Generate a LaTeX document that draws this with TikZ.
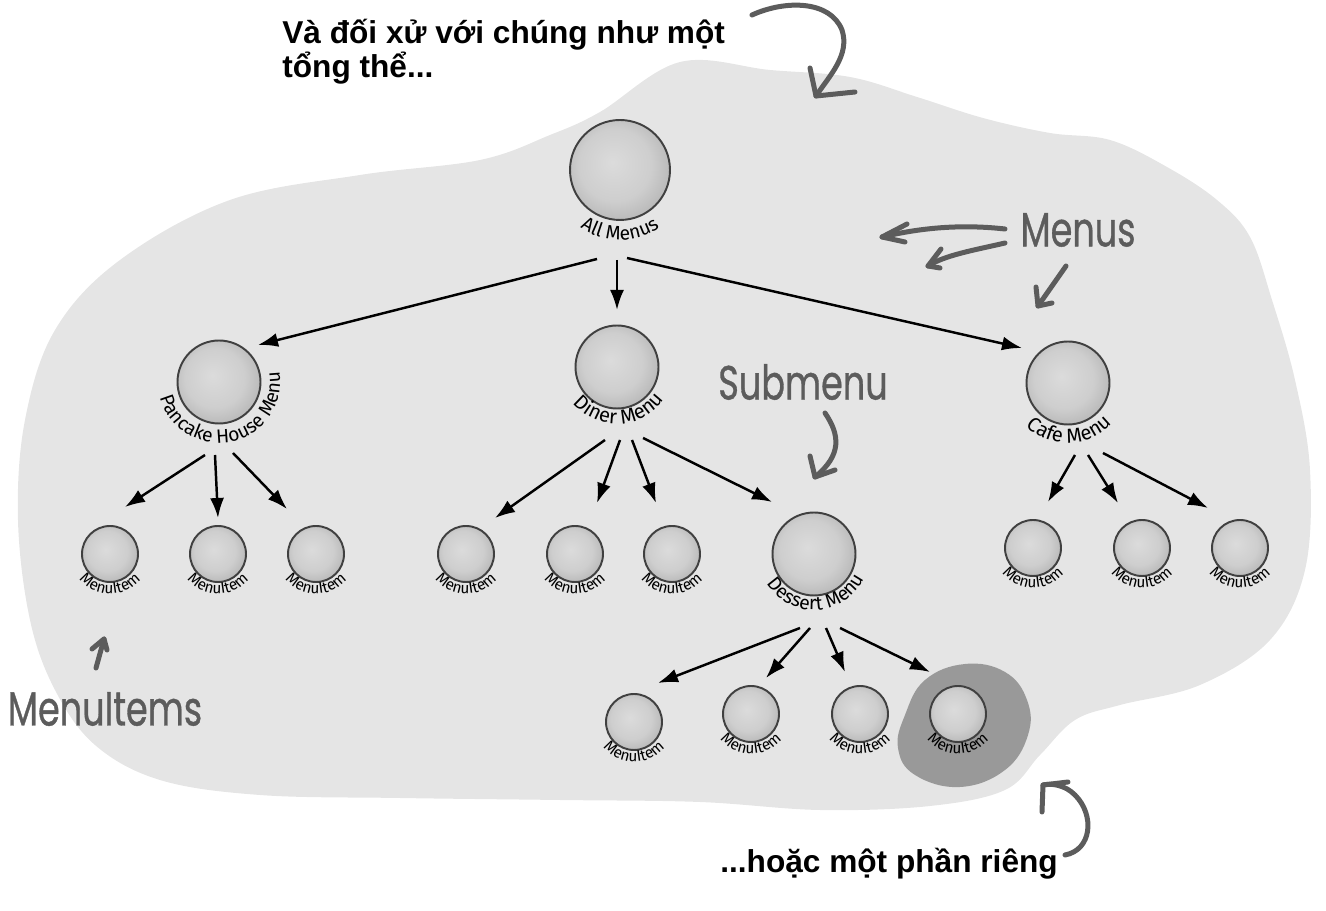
\documentclass[tikz,border=0pt]{standalone}
\usepackage{fontspec}
\setmainfont{Liberation Sans}
\newfontfamily\lblfont{Fira Sans}
\newfontfamily\handfont[FakeBold=0.9]{Poppins}
\usetikzlibrary{arrows.meta,calc,decorations.text}
\definecolor{blobgray}{gray}{0.9}
\definecolor{darkblob}{gray}{0.6}
\definecolor{handgray}{gray}{0.36}
\definecolor{ballin}{gray}{0.86}
\definecolor{ballout}{gray}{0.6}
\pgfdeclareradialshading{ballshade}{\pgfpoint{-4bp}{4bp}}{color(0bp)=(ballin); color(18bp)=(ballin!80!ballout); color(42bp)=(ballout); color(50bp)=(ballout)}
\newcommand\arclbl[5]{%
  \path[decorate, decoration={text along path, text align=center, text={#5}}]
    ($(#1)+(#3:#2)$) arc[start angle=#3, end angle=#4, radius=#2];}
\newcommand\hw[1]{\scalebox{0.95}[1.3]{#1}}
\begin{document}
\begin{tikzpicture}[x=0.02cm, y=-0.02cm,
  ball/.style={circle, draw=black!75, line width=1.1pt, shading=ballshade, inner sep=0pt},
  bigball/.style={ball, minimum size=1.66cm},
  topball/.style={ball, minimum size=2cm},
  itemball/.style={ball, minimum size=1.12cm},
  conn/.style={line width=1.4pt, -{Latex[length=0.4cm,width=0.28cm]}},
  hand/.style={handgray, line width=0.1cm, line cap=round, line join=round},
  handtext/.style={handgray, font=\handfont\fontsize{21}{24}\selectfont, inner sep=0pt},
  bigtext/.style={anchor=base west, inner sep=0pt, font=\bfseries\fontsize{18}{21}\selectfont}
]
\useasboundingbox (0,0) rectangle (1326,911);
% background blob
\fill[blobgray] plot[smooth cycle, tension=0.6] coordinates {
 (600,112) (680,62) (770,70) (850,77) (917,97) (983,118) (1050,133) (1110,140)
 (1167,167) (1217,200) (1250,237) (1272,300) (1295,380) (1310,470) (1305,570)
 (1270,640) (1200,685) (1120,705) (1075,720) (1040,755)
 (1005,790) (930,806) (820,810) (700,802) (560,800) (400,798) (260,795) (160,780)
 (95,745) (55,690) (30,620) (18,520) (25,420) (55,330) (120,260) (230,200)
 (360,175) (480,160) (550,135)};
\fill[darkblob] plot[smooth cycle, tension=0.7] coordinates {
 (925,680) (965,664) (1005,672) (1027,700) (1028,735) (1005,770) (960,787)
 (915,775) (898,748) (905,715)};

% balls
\node[topball] (all) at (620,170) {};
\node[bigball] (pan) at (219,382) {};
\node[bigball] (din) at (617,367) {};
\node[bigball] (caf) at (1068,383) {};
\node[bigball] (des) at (814,554) {};
\foreach \n/\x/\y in {p1/110/554, p2/218/554, p3/316/554,
  d1/466/554, d2/575/554, d3/672/554,
  c1/1033/548, c2/1142/548, c3/1240/548,
  s1/634/722, s2/751/714, s3/860/714, s4/958/714}
  {\node[itemball] (\n) at (\x,\y) {};}

% labels along arcs
\arclbl{all}{70}{160}{20}{|\lblfont\fontsize{11}{13}\selectfont|All Menus}
\arclbl{pan}{61}{178}{-22}{|\lblfont\fontsize{11}{13}\selectfont|Pancake House Menu}
\arclbl{din}{57}{155}{20}{|\lblfont\fontsize{11.5}{13}\selectfont|Diner Menu}
\arclbl{caf}{60}{155}{22}{|\lblfont\fontsize{11.5}{13}\selectfont|Cafe Menu}
\arclbl{des}{56}{160}{14}{|\lblfont\fontsize{11}{13}\selectfont|Dessert Menu}
\foreach \n in {p1,p2,p3,d1,d2,d3,c1,c2,c3,s1,s2,s3,s4}
  {\arclbl{\n}{40}{160}{20}{|\lblfont\fontsize{8.8}{10}\selectfont|MenuItem}}

% connectors
\draw[conn] ($(all)+(-23,89)$) -- ($(pan)+(39,-37)$);
\draw[conn] ($(all)+(-3,90)$) -- ($(din)+(0,-57)$);
\draw[conn] ($(all)+(7,88)$) -- ($(caf)+(-46,-35)$);
\draw[conn] ($(pan)+(-14,73)$) -- ($(p1)+(15,-47)$);
\draw[conn] ($(pan)+(-4,73)$) -- ($(p2)+(0,-36)$);
\draw[conn] ($(pan)+(14,71)$) -- ($(p3)+(-29,-45)$);
\draw[conn] ($(din)+(-12,73)$) -- ($(d1)+(29,-36)$);
\draw[conn] ($(din)+(3,73)$) -- ($(d2)+(22,-51)$);
\draw[conn] ($(din)+(15,73)$) -- ($(d3)+(-16,-51)$);
\draw[conn] ($(din)+(26,71)$) -- ($(des)+(-42,-52)$);
\draw[conn] ($(caf)+(7,72)$) -- ($(c1)+(15,-46)$);
\draw[conn] ($(caf)+(20,72)$) -- ($(c2)+(-24,-45)$);
\draw[conn] ($(caf)+(35,70)$) -- ($(c3)+(-32,-40)$);
\draw[conn] ($(des)+(-14,74)$) -- ($(s1)+(24,-39)$);
\draw[conn] ($(des)+(-4,74)$) -- ($(s2)+(15,-36)$);
\draw[conn] ($(des)+(12,74)$) -- ($(s3)+(-15,-42)$);
\draw[conn] ($(des)+(26,74)$) -- ($(s4)+(-28,-42)$);

% texts
\node[bigtext] (t1) at (282,44) {Và đối xử với chúng như một};
\node[bigtext] (t2) at (282,78) {tổng thể...};
\node[bigtext] (t3) at (720,873) {...hoặc một phần riêng};
\node[handtext] (menus) at (1078,230) {\hw{Menus}};
\node[handtext] (submenu) at (803,382) {\hw{Submenu}};
\node[handtext] (mitems) at (105,709) {\hw{MenuItems}};

% hand-drawn arrows
\coordinate (tipA) at (816,96);
\draw[hand] (752,15) .. controls (785,0) and (830,0) .. (842,30) .. controls (850,55) and (830,75) .. (tipA);
\draw[hand] (810,68) -- (tipA) -- (855,92);
\coordinate (tipB) at (882,237);
\draw[hand] (1005,229) .. controls (960,224) and (920,228) .. (tipB);
\draw[hand] (907,224) -- (tipB) -- (905,242);
\coordinate (tipC) at (928,266);
\draw[hand] (1005,243) .. controls (975,250) and (945,255) .. (tipC);
\draw[hand] (941,249) -- (tipC) -- (940,268);
\coordinate (tipD) at (1038,306);
\draw[hand] (1066,266) -- (tipD);
\draw[hand] (1036,287) -- (tipD) -- (1052,303);
\coordinate (tipE) at (815,477);
\draw[hand] (825,413) .. controls (840,435) and (842,455) .. (tipE);
\draw[hand] (810,456) -- (tipE) -- (835,470);
\coordinate (tipF) at (104,639);
\draw[hand] (96,668) -- (tipF);
\draw[hand] (92,649) -- (tipF) -- (107,650);
\coordinate (tipG) at (1043,785);
\draw[hand] (1065,855) .. controls (1092,850) and (1095,815) .. (1075,795) .. controls (1065,785) and (1052,783) .. (tipG);
\draw[hand] (1042,812) -- (tipG) -- (1068,782);
\end{tikzpicture}
\end{document}
